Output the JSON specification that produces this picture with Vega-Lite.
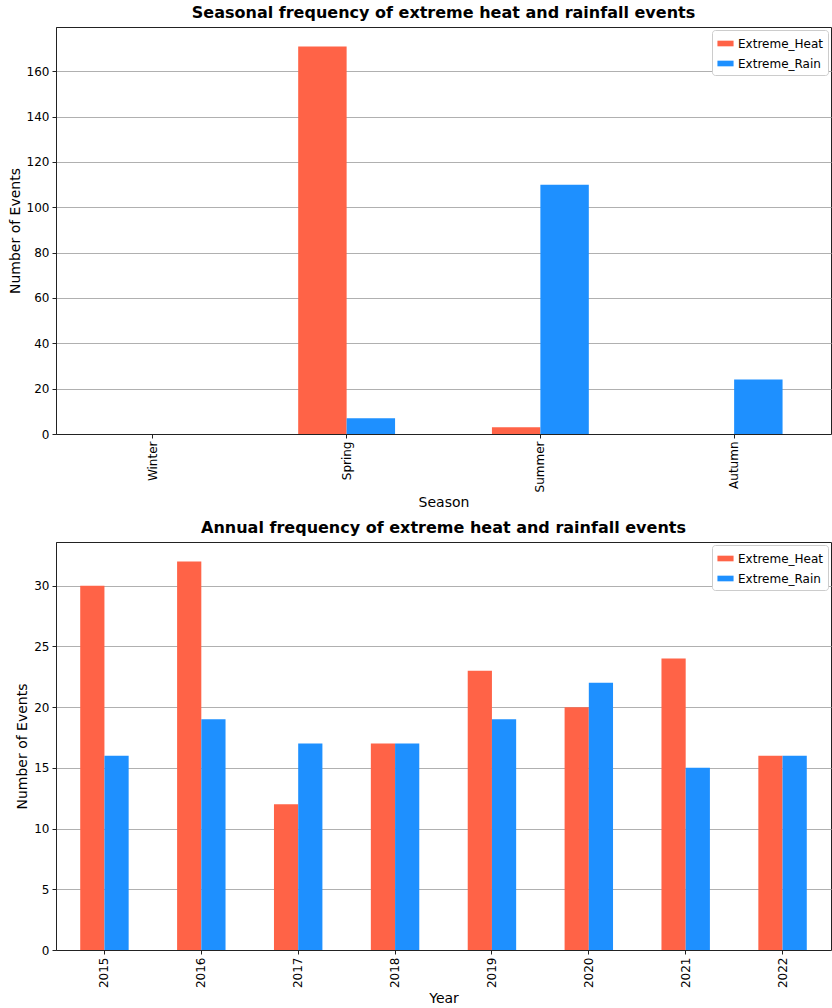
{
  "$schema": "https://vega.github.io/schema/vega-lite/v6.json",
  "padding": {"left": 7, "top": 4, "right": 0, "bottom": 0},
  "background": "white",
  "spacing": 8,
  "datasets": {
    "seasonal": [
      {"Season": "Winter", "Type": "Extreme_Heat", "Count": 0},
      {"Season": "Winter", "Type": "Extreme_Rain", "Count": 0},
      {"Season": "Spring", "Type": "Extreme_Heat", "Count": 171},
      {"Season": "Spring", "Type": "Extreme_Rain", "Count": 7},
      {"Season": "Summer", "Type": "Extreme_Heat", "Count": 3},
      {"Season": "Summer", "Type": "Extreme_Rain", "Count": 110},
      {"Season": "Autumn", "Type": "Extreme_Heat", "Count": 0},
      {"Season": "Autumn", "Type": "Extreme_Rain", "Count": 24}
    ],
    "annual": [
      {"Year": "2015", "Type": "Extreme_Heat", "Count": 30},
      {"Year": "2015", "Type": "Extreme_Rain", "Count": 16},
      {"Year": "2016", "Type": "Extreme_Heat", "Count": 32},
      {"Year": "2016", "Type": "Extreme_Rain", "Count": 19},
      {"Year": "2017", "Type": "Extreme_Heat", "Count": 12},
      {"Year": "2017", "Type": "Extreme_Rain", "Count": 17},
      {"Year": "2018", "Type": "Extreme_Heat", "Count": 17},
      {"Year": "2018", "Type": "Extreme_Rain", "Count": 17},
      {"Year": "2019", "Type": "Extreme_Heat", "Count": 23},
      {"Year": "2019", "Type": "Extreme_Rain", "Count": 19},
      {"Year": "2020", "Type": "Extreme_Heat", "Count": 20},
      {"Year": "2020", "Type": "Extreme_Rain", "Count": 22},
      {"Year": "2021", "Type": "Extreme_Heat", "Count": 24},
      {"Year": "2021", "Type": "Extreme_Rain", "Count": 15},
      {"Year": "2022", "Type": "Extreme_Heat", "Count": 16},
      {"Year": "2022", "Type": "Extreme_Rain", "Count": 16}
    ]
  },
  "vconcat": [
    {
      "title": "Seasonal frequency of extreme heat and rainfall events",
      "width": 775,
      "height": 407,
      "data": {"name": "seasonal"},
      "mark": {"type": "bar"},
      "encoding": {
        "x": {
          "field": "Season",
          "type": "nominal",
          "sort": ["Winter", "Spring", "Summer", "Autumn"],
          "scale": {"paddingInner": 0.5, "paddingOuter": 0.25},
          "axis": {"title": "Season", "labelAngle": -90}
        },
        "xOffset": {"field": "Type", "type": "nominal", "scale": {"paddingInner": 0, "paddingOuter": 0}},
        "y": {
          "field": "Count",
          "type": "quantitative",
          "scale": {"domain": [0, 179.55], "nice": false, "zero": true},
          "axis": {"title": "Number of Events", "values": [0, 20, 40, 60, 80, 100, 120, 140, 160], "grid": true}
        },
        "color": {
          "field": "Type",
          "type": "nominal",
          "scale": {"domain": ["Extreme_Heat", "Extreme_Rain"], "range": ["#FF6347", "#1E90FF"]},
          "legend": {"title": null, "orient": "top-right"}
        }
      }
    },
    {
      "title": "Annual frequency of extreme heat and rainfall events",
      "width": 775,
      "height": 408,
      "data": {"name": "annual"},
      "mark": {"type": "bar"},
      "encoding": {
        "x": {
          "field": "Year",
          "type": "nominal",
          "scale": {"paddingInner": 0.5, "paddingOuter": 0.25},
          "axis": {"title": "Year", "labelAngle": -90}
        },
        "xOffset": {"field": "Type", "type": "nominal", "scale": {"paddingInner": 0, "paddingOuter": 0}},
        "y": {
          "field": "Count",
          "type": "quantitative",
          "scale": {"domain": [0, 33.6], "nice": false, "zero": true},
          "axis": {"title": "Number of Events", "values": [0, 5, 10, 15, 20, 25, 30], "grid": true}
        },
        "color": {
          "field": "Type",
          "type": "nominal",
          "scale": {"domain": ["Extreme_Heat", "Extreme_Rain"], "range": ["#FF6347", "#1E90FF"]},
          "legend": {"title": null, "orient": "top-right"}
        }
      }
    }
  ],
  "resolve": {
    "scale": {"x": "independent", "xOffset": "independent", "y": "independent", "color": "independent"},
    "legend": {"color": "independent"}
  },
  "config": {
    "font": "DejaVu Sans",
    "view": {"stroke": "#222", "strokeWidth": 1},
    "title": {"font": "DejaVu Sans", "fontSize": 16, "fontWeight": "bold", "color": "#000", "offset": 6},
    "axis": {
      "labelFont": "DejaVu Sans",
      "labelFontSize": 12,
      "labelColor": "#000",
      "titleFont": "DejaVu Sans",
      "titleFontSize": 14,
      "titleFontWeight": "normal",
      "titleColor": "#000",
      "domainColor": "#222",
      "tickColor": "#222",
      "tickSize": 4,
      "gridColor": "#b0b0b0",
      "gridWidth": 1,
      "grid": false,
      "labelPadding": 3,
      "titlePadding": 4
    },
    "legend": {
      "labelFont": "DejaVu Sans",
      "labelFontSize": 12,
      "labelColor": "#000",
      "fillColor": "white",
      "strokeColor": "#ccc",
      "cornerRadius": 3,
      "padding": 5,
      "offset": 3,
      "rowPadding": 5,
      "symbolType": "M-1,-0.35L1,-0.35L1,0.35L-1,0.35Z",
      "symbolSize": 260,
      "symbolStrokeWidth": 0,
      "symbolOpacity": 1
    }
  }
}
